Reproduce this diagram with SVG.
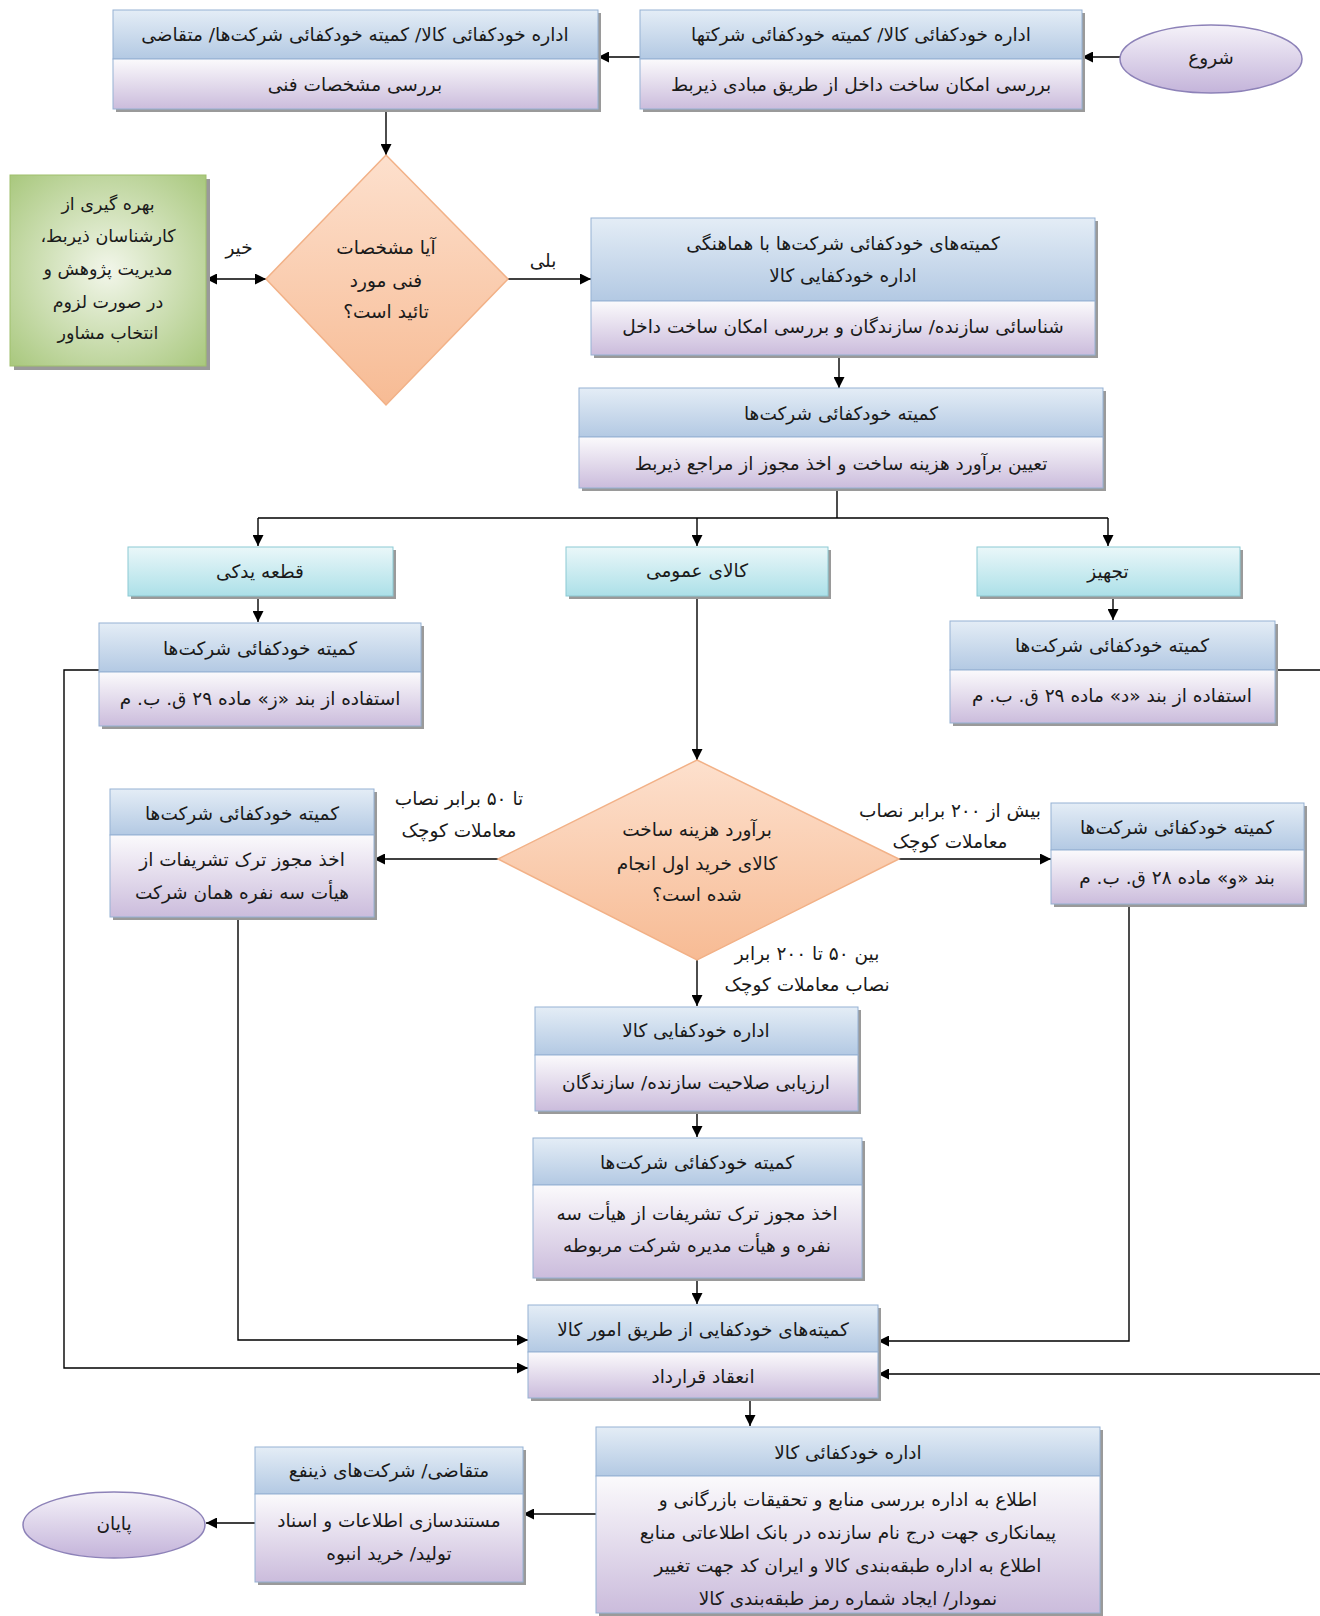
<svg xmlns="http://www.w3.org/2000/svg" width="1320" height="1616" viewBox="0 0 1320 1616">
<defs>
<linearGradient id="gHead" x1="0" y1="0" x2="0" y2="1"><stop offset="0" stop-color="#e4edf6"/><stop offset="1" stop-color="#b3c9e3"/></linearGradient>
<linearGradient id="gBody" x1="0" y1="0" x2="0" y2="1"><stop offset="0" stop-color="#fbfafc"/><stop offset="1" stop-color="#cbbcdc"/></linearGradient>
<linearGradient id="gTeal" x1="0" y1="0" x2="0" y2="1"><stop offset="0" stop-color="#eaf7f9"/><stop offset="1" stop-color="#ace0e8"/></linearGradient>
<linearGradient id="gDia" x1="0" y1="0" x2="0" y2="1"><stop offset="0" stop-color="#fde0cd"/><stop offset="1" stop-color="#f7bb94"/></linearGradient>
<radialGradient id="gGreen" cx="0.5" cy="0.5" r="0.7"><stop offset="0" stop-color="#f2f6ea"/><stop offset="1" stop-color="#a9c87e"/></radialGradient>
<linearGradient id="gEll" x1="0" y1="0" x2="0" y2="1"><stop offset="0" stop-color="#f5f2f9"/><stop offset="1" stop-color="#c4b4da"/></linearGradient>
<marker id="ah" viewBox="0 0 10 10" refX="10" refY="5" markerWidth="12" markerHeight="11" markerUnits="userSpaceOnUse" orient="auto-start-reverse"><path d="M0,0 L10,5 L0,10 z" fill="#000"/></marker>
</defs>
<style>
text{font-family:"DejaVu Sans","Noto Sans",sans-serif;font-size:18.5px;fill:#1a1a1a;text-anchor:middle;direction:rtl;dominant-baseline:central}
.sm{font-size:17.5px}
.sh{fill:#9a9a9a}
.hd{fill:url(#gHead);stroke:#95b1d3;stroke-width:1}
.bd{fill:url(#gBody);stroke:#95b1d3;stroke-width:1}
.tl{fill:url(#gTeal);stroke:#8cc9d3;stroke-width:1}
.dm{fill:url(#gDia);stroke:#f2b187;stroke-width:1.5}
.gr{fill:url(#gGreen);stroke:#9fbf6c;stroke-width:1}
.el{fill:url(#gEll);stroke:#8d82b8;stroke-width:1.5}
.cn{fill:none;stroke:#000;stroke-width:1.4}
.ar{marker-end:url(#ah)}
</style>
<rect width="1320" height="1616" fill="#fff"/>

<g id="connectors">
<path class="cn ar" d="M1120,57 H1082"/>
<path class="cn ar" d="M640,57 H598"/>
<path class="cn ar" d="M386,109 V155"/>
<path class="cn ar" d="M206,279 H266" marker-start="url(#ah)"/>
<path class="cn ar" d="M508,279 H591"/>
<path class="cn ar" d="M839,355 V388"/>
<path class="cn" d="M837,488 V518 M258,518 H1108"/>
<path class="cn ar" d="M258,518 V546"/>
<path class="cn ar" d="M697,518 V546"/>
<path class="cn ar" d="M1108,518 V546"/>
<path class="cn ar" d="M258,596 V622"/>
<path class="cn ar" d="M1113,596 V620"/>
<path class="cn ar" d="M697,596 V760"/>
<path class="cn ar" d="M498,859 H374"/>
<path class="cn ar" d="M899,859 H1051"/>
<path class="cn ar" d="M697,960 V1006"/>
<path class="cn ar" d="M697,1111 V1137"/>
<path class="cn ar" d="M697,1278 V1304"/>
<path class="cn ar" d="M238,917 V1340 H528"/>
<path class="cn ar" d="M99,670 H64 V1368 H528"/>
<path class="cn ar" d="M1129,904 V1341 H878"/>
<path class="cn ar" d="M1275,670 H1330 V1374 H878"/>
<path class="cn ar" d="M750,1398 V1426"/>
<path class="cn ar" d="M596,1514 H523"/>
<path class="cn ar" d="M255,1523 H206"/>
<text x="239" y="247">خیر</text>
<text x="543" y="260">بلی</text>
<text x="459" y="798">تا ۵۰ برابر نصاب</text>
<text x="459" y="830">معاملات کوچک</text>
<text x="950" y="810">بیش از ۲۰۰ برابر نصاب</text>
<text x="950" y="841">معاملات کوچک</text>
<text x="807" y="953">بین ۵۰ تا ۲۰۰ برابر</text>
<text x="807" y="984">نصاب معاملات کوچک</text>
</g>

<g id="start">
<ellipse class="el" cx="1211" cy="59" rx="91" ry="34"/>
<text x="1211" y="57">شروع</text>
</g>

<g id="boxA">
<rect class="sh" x="116" y="13" width="485" height="99"/>
<rect class="hd" x="113" y="10" width="485" height="49"/>
<rect class="bd" x="113" y="59" width="485" height="50"/>
<text x="355" y="34">اداره خودکفائی کالا/ کمیته خودکفائی شرکت‌ها/ متقاضی</text>
<text x="355" y="84">بررسی مشخصات فنی</text>
</g>

<g id="boxB">
<rect class="sh" x="643" y="13" width="442" height="99"/>
<rect class="hd" x="640" y="10" width="442" height="49"/>
<rect class="bd" x="640" y="59" width="442" height="50"/>
<text x="861" y="34">اداره خودکفائی کالا/ کمیته خودکفائی شرکتها</text>
<text x="861" y="84">بررسی امکان ساخت داخل از طریق مبادی ذیربط</text>
</g>

<g id="dec1">
<polygon class="dm" points="386,155 508,279 386,405 266,279"/>
<text x="386" y="247">آیا مشخصات</text>
<text x="386" y="280">فنی مورد</text>
<text x="386" y="311">تائید است؟</text>
</g>

<g id="consult">
<rect class="sh" x="14" y="179" width="196" height="191"/>
<rect class="gr" x="10" y="175" width="196" height="191"/>
<text class="sm" x="108" y="204">بهره گیری از</text>
<text class="sm" x="108" y="236">کارشناسان ذیربط،</text>
<text class="sm" x="108" y="269">مدیریت پژوهش و</text>
<text class="sm" x="108" y="302">در صورت لزوم</text>
<text class="sm" x="108" y="333">انتخاب مشاور</text>
</g>

<g id="boxC">
<rect class="sh" x="594" y="221" width="504" height="137"/>
<rect class="hd" x="591" y="218" width="504" height="83"/>
<rect class="bd" x="591" y="301" width="504" height="54"/>
<text x="843" y="243">کمیته‌های خودکفائی شرکت‌ها با هماهنگی</text>
<text x="843" y="275">اداره خودکفایی کالا</text>
<text x="843" y="326">شناسائی سازنده/ سازندگان و بررسی امکان ساخت داخل</text>
</g>

<g id="boxD">
<rect class="sh" x="582" y="391" width="524" height="100"/>
<rect class="hd" x="579" y="388" width="524" height="49"/>
<rect class="bd" x="579" y="437" width="524" height="51"/>
<text x="841" y="413">کمیته خودکفائی شرکت‌ها</text>
<text x="841" y="463">تعیین برآورد هزینه ساخت و اخذ مجوز از مراجع ذیربط</text>
</g>

<g id="spare">
<rect class="sh" x="131" y="550" width="265" height="49"/>
<rect class="tl" x="128" y="547" width="265" height="49"/>
<text x="260" y="571">قطعه یدکی</text>
</g>

<g id="general">
<rect class="sh" x="569" y="550" width="262" height="49"/>
<rect class="tl" x="566" y="547" width="262" height="49"/>
<text x="697" y="570">کالای عمومی</text>
</g>

<g id="equip">
<rect class="sh" x="980" y="550" width="263" height="49"/>
<rect class="tl" x="977" y="547" width="263" height="49"/>
<text x="1108" y="571">تجهیز</text>
</g>

<g id="boxH">
<rect class="sh" x="102" y="626" width="322" height="103"/>
<rect class="hd" x="99" y="623" width="322" height="49"/>
<rect class="bd" x="99" y="672" width="322" height="54"/>
<text x="260" y="648">کمیته خودکفائی شرکت‌ها</text>
<text x="260" y="698">استفاده از بند «ز» ماده ۲۹ ق. ب. م</text>
</g>

<g id="boxI">
<rect class="sh" x="953" y="624" width="325" height="102"/>
<rect class="hd" x="950" y="621" width="325" height="49"/>
<rect class="bd" x="950" y="670" width="325" height="53"/>
<text x="1112" y="645">کمیته خودکفائی شرکت‌ها</text>
<text x="1112" y="695">استفاده از بند «د» ماده ۲۹ ق. ب. م</text>
</g>

<g id="dec2">
<polygon class="dm" points="697,760 899,859 697,960 498,859"/>
<text x="697" y="829">برآورد هزینه ساخت</text>
<text x="697" y="863">کالای خرید اول انجام</text>
<text x="697" y="894">شده است؟</text>
</g>

<g id="boxJ">
<rect class="sh" x="113" y="792" width="264" height="128"/>
<rect class="hd" x="110" y="789" width="264" height="46"/>
<rect class="bd" x="110" y="835" width="264" height="82"/>
<text x="242" y="813">کمیته خودکفائی شرکت‌ها</text>
<text x="242" y="859">اخذ مجوز ترک تشریفات از</text>
<text x="242" y="892">هیأت سه نفره همان شرکت</text>
</g>

<g id="boxK">
<rect class="sh" x="1054" y="806" width="253" height="101"/>
<rect class="hd" x="1051" y="803" width="253" height="47"/>
<rect class="bd" x="1051" y="850" width="253" height="54"/>
<text x="1177" y="827">کمیته خودکفائی شرکت‌ها</text>
<text x="1177" y="877">بند «و» ماده ۲۸ ق. ب. م</text>
</g>

<g id="boxL">
<rect class="sh" x="538" y="1010" width="323" height="104"/>
<rect class="hd" x="535" y="1007" width="323" height="48"/>
<rect class="bd" x="535" y="1055" width="323" height="56"/>
<text x="696" y="1030">اداره خودکفایی کالا</text>
<text x="696" y="1082">ارزیابی صلاحیت سازنده/ سازندگان</text>
</g>

<g id="boxM">
<rect class="sh" x="536" y="1141" width="329" height="140"/>
<rect class="hd" x="533" y="1138" width="329" height="47"/>
<rect class="bd" x="533" y="1185" width="329" height="93"/>
<text x="697" y="1162">کمیته خودکفائی شرکت‌ها</text>
<text x="697" y="1213">اخذ مجوز ترک تشریفات از هیأت سه</text>
<text x="697" y="1245">نفره و هیأت مدیره شرکت مربوطه</text>
</g>

<g id="boxN">
<rect class="sh" x="531" y="1308" width="350" height="93"/>
<rect class="hd" x="528" y="1305" width="350" height="47"/>
<rect class="bd" x="528" y="1352" width="350" height="46"/>
<text x="703" y="1329">کمیته‌های خودکفایی از طریق امور کالا</text>
<text x="703" y="1376">انعقاد قرارداد</text>
</g>

<g id="boxO">
<rect class="sh" x="599" y="1430" width="504" height="186"/>
<rect class="hd" x="596" y="1427" width="504" height="49"/>
<rect class="bd" x="596" y="1476" width="504" height="137"/>
<text x="848" y="1452">اداره خودکفائی کالا</text>
<text x="848" y="1499">اطلاع به اداره بررسی منابع و تحقیقات بازرگانی و</text>
<text x="848" y="1532">پیمانکاری جهت درج نام سازنده در بانک اطلاعاتی منابع</text>
<text x="848" y="1565">اطلاع به اداره طبقه‌بندی کالا و ایران کد جهت تغییر</text>
<text x="848" y="1598">نمودار/ ایجاد شماره رمز طبقه‌بندی کالا</text>
</g>

<g id="boxP">
<rect class="sh" x="258" y="1450" width="268" height="135"/>
<rect class="hd" x="255" y="1447" width="268" height="47"/>
<rect class="bd" x="255" y="1494" width="268" height="88"/>
<text x="389" y="1470">متقاضی/ شرکت‌های ذینفع</text>
<text x="389" y="1520">مستندسازی اطلاعات و اسناد</text>
<text x="389" y="1553">تولید/ خرید انبوه</text>
</g>

<g id="end">
<ellipse class="el" cx="114" cy="1525" rx="91" ry="33"/>
<text x="114" y="1523">پایان</text>
</g>
</svg>
